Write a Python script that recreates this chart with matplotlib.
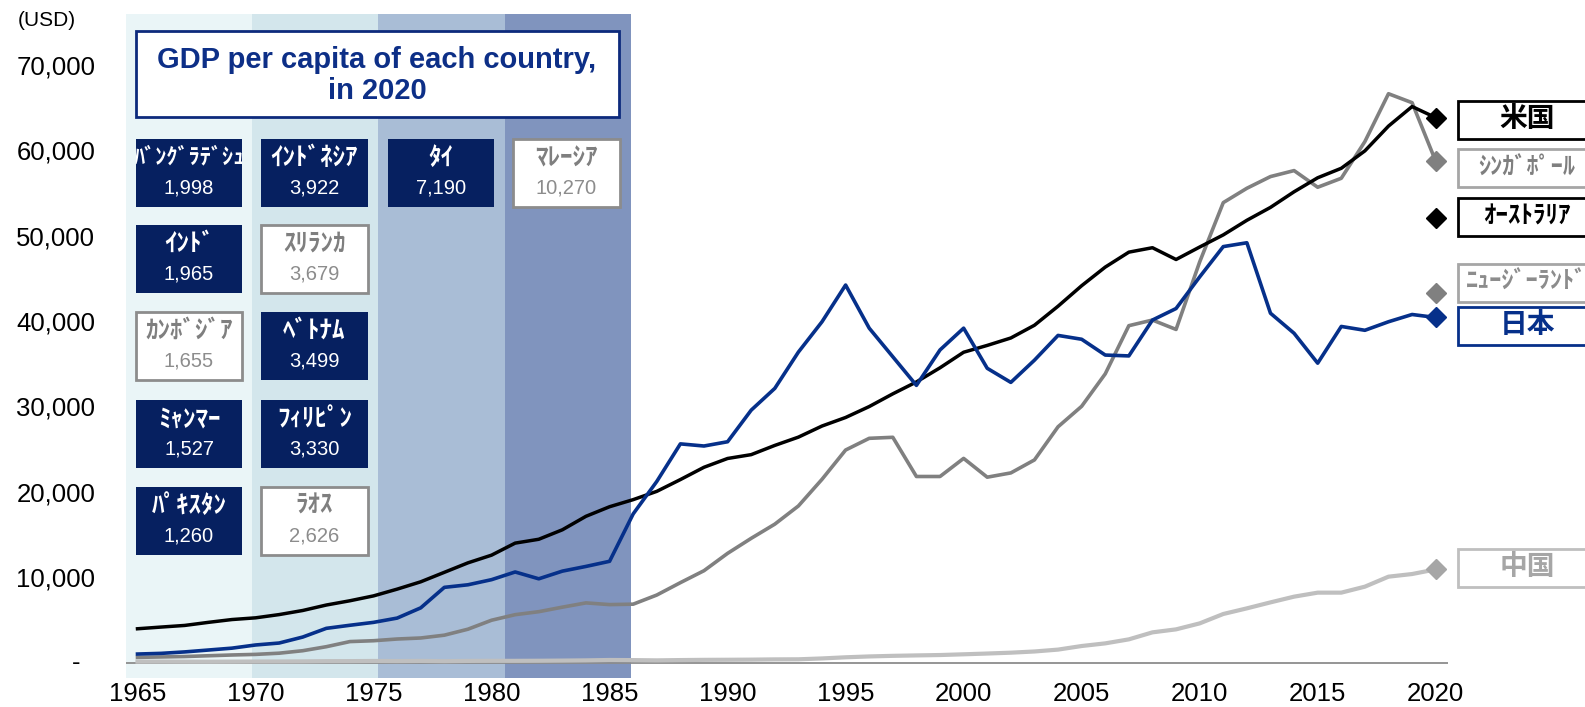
import matplotlib
matplotlib.use("Agg")
import matplotlib.pyplot as plt
from matplotlib.patches import Rectangle

plt.rcParams['font.family'] = ['Liberation Sans', 'Noto Sans CJK JP']

# ======================
# DATA
# ======================
years = list(range(1965, 2021))

usa = [3950, 4150, 4340, 4700, 5030, 5230, 5610, 6090, 6730, 7230,
       7800, 8590, 9450, 10560, 11670, 12570, 13980, 14430, 15540, 17120,
       18240, 19070, 20040, 21420, 22860, 23890, 24340, 25420, 26390, 27690,
       28690, 29970, 31460, 32850, 34510, 36330, 37130, 38000, 39490, 41720,
       44120, 46300, 48050, 48570, 47190, 48650, 50070, 51780, 53290, 55120,
       56760, 57870, 59910, 62810, 65100, 63800]

japan = [990, 1070, 1240, 1460, 1680, 2050, 2280, 2980, 4000, 4360,
         4700, 5200, 6400, 8800, 9100, 9700, 10600, 9800, 10700, 11250,
         11850, 17400, 21200, 25600, 25350, 25850, 29550, 32100, 36350, 39900,
         44200, 39150, 35800, 32450, 36600, 39150, 34450, 32800, 35400, 38300,
         37850, 36000, 35900, 40100, 41450, 45150, 48700, 49150, 40900, 38550,
         35050, 39350, 38900, 39900, 40750, 40400]

singapore = [600, 650, 700, 790, 880, 950, 1090, 1380, 1850, 2450,
             2550, 2750, 2870, 3200, 3900, 4950, 5600, 5950, 6480, 6980,
             6780, 6830, 7900, 9350, 10750, 12780, 14540, 16200, 18330, 21450,
             24880, 26250, 26370, 21780, 21780, 23900, 21700, 22200, 23720, 27600,
             30000, 33800, 39440, 40100, 39000, 46900, 53850, 55530, 56900, 57600,
             55650, 56700, 61000, 66600, 65550, 58700]

china = [100, 105, 95, 90, 100, 115, 120, 130, 155, 160,
         180, 165, 185, 155, 185, 195, 195, 205, 225, 250,
         295, 280, 250, 285, 310, 320, 335, 365, 375, 475,
         610, 710, 780, 830, 875, 960, 1050, 1150, 1290, 1510,
         1930, 2240, 2710, 3530, 3880, 4580, 5680, 6340, 7040, 7710,
         8180, 8180, 8880, 10050, 10360, 10900]

australia_2020 = 52100
nz_2020 = 43300

right_labels = ['米国', 'ｼﾝｶﾞﾎﾟｰﾙ', 'ｵｰｽﾄﾗﾘｱ', 'ﾆｭｰｼﾞｰﾗﾝﾄﾞ', '日本', '中国']

box_names = ['ﾊﾞﾝｸﾞﾗﾃﾞｼｭ', 'ｲﾝﾄﾞ', 'ｶﾝﾎﾞｼﾞｱ', 'ﾐｬﾝﾏｰ', 'ﾊﾟｷｽﾀﾝ',
             'ｲﾝﾄﾞﾈｼｱ', 'ｽﾘﾗﾝｶ', 'ﾍﾞﾄﾅﾑ', 'ﾌｨﾘﾋﾟﾝ', 'ﾗｵｽ',
             'ﾀｲ', 'ﾏﾚｰｼｱ']
box_values = [1998, 1965, 1655, 1527, 1260,
              3922, 3679, 3499, 3330, 2626,
              7190, 10270]

# ======================
# STYLE / LAYOUT
# ======================
W, H = 1585, 707
NAVY = '#062060'
JP_BLUE = '#06308a'
GRAY = '#808080'
LGRAY = '#bfbfbf'

box_dark = [True, True, False, True, True,
            True, False, True, True, False,
            True, False]
box_col = [0, 0, 0, 0, 0, 1, 1, 1, 1, 1, 2, 3]
box_row = [0, 1, 2, 3, 4, 0, 1, 2, 3, 4, 0, 0]
col_x = [(136, 242), (261, 368), (388, 494), (513, 620)]
row_top = [139, 225, 312, 400, 487]
row_h = 68

band_edges = [1964.5, 1969.85, 1975.2, 1980.55, 1985.9]
band_colors = ['#eaf5f7', '#d3e6ec', '#a9bdd6', '#8094be']


def fx(x):
    return x / W


def fy(y):
    return 1 - y / H


# axes placement in pixels
ax_left, ax_right = 125.7, 1447.5
ax_top, ax_bot = 14.2, 677.6
zero_px, px_per_10k = 662.5, 85.4
ymin = -(ax_bot - zero_px) / px_per_10k * 10000
ymax = (zero_px - ax_top) / px_per_10k * 10000

fig = plt.figure(figsize=(W / 100, H / 100), dpi=100)
ax = fig.add_axes([fx(ax_left), fy(ax_bot), (ax_right - ax_left) / W, (ax_bot - ax_top) / H])
ax.set_xlim(1964.5, 2020.5)
ax.set_ylim(ymin, ymax)

for i, c in enumerate(band_colors):
    ax.axvspan(band_edges[i], band_edges[i + 1], color=c, lw=0, zorder=0)

ax.axhline(0, color='#8c8c8c', lw=1.3, zorder=1)

ax.plot(years, china, color=LGRAY, lw=3, zorder=2)
ax.plot(years, singapore, color=GRAY, lw=2.6, zorder=3)
ax.plot(years, usa, color='black', lw=2.5, zorder=4)
ax.plot(years, japan, color=JP_BLUE, lw=2.6, zorder=5)

# 2020 diamonds
ms = 10
ax.plot(years[-1], usa[-1], 'D', color='black', ms=ms, clip_on=False, zorder=6)
ax.plot(years[-1], singapore[-1], 'D', color=GRAY, ms=ms, clip_on=False, zorder=6)
ax.plot(years[-1], australia_2020, 'D', color='black', ms=ms, clip_on=False, zorder=6)
ax.plot(years[-1], nz_2020, 'D', color=GRAY, ms=ms, clip_on=False, zorder=6)
ax.plot(years[-1], japan[-1], 'D', color=JP_BLUE, ms=ms, clip_on=False, zorder=6)
ax.plot(years[-1], china[-1], 'D', color='#a6a6a6', ms=ms, clip_on=False, zorder=6)

for s in ax.spines.values():
    s.set_visible(False)

ax.set_xticks(range(1965, 2021, 5))
ax.set_yticks(range(10000, 70001, 10000))
ax.set_yticklabels([f'{v:,}' for v in range(10000, 70001, 10000)])
ax.tick_params(axis='y', length=0, pad=22, labelsize=18.5)
ax.tick_params(axis='x', length=0, pad=3.5, labelsize=18.5)
fig.text(fx(76), fy(zero_px), '-', fontsize=18.5, ha='center', va='center')
fig.text(fx(47), fy(21), '(USD)', fontsize=15, ha='center', va='center')

# title box
fig.add_artist(Rectangle((fx(136), fy(117)), (619 - 136) / W, (117 - 31) / H,
                         transform=fig.transFigure, facecolor='white',
                         edgecolor='#0d2a7c', lw=2, zorder=5))
fig.text(fx(377), fy(75.5), 'GDP per capita of each country,\nin 2020', color='#0d2f87',
         fontsize=21, fontweight='bold', ha='center', va='center',
         linespacing=1.1, zorder=6)

# country boxes
for name, val, dark, c, r in zip(box_names, box_values, box_dark, box_col, box_row):
    x0, x1 = col_x[c]
    y0 = row_top[r]
    if dark:
        rect = Rectangle((fx(x0), fy(y0 + row_h)), (x1 - x0) / W, row_h / H,
                         transform=fig.transFigure, facecolor=NAVY, edgecolor=NAVY,
                         lw=0, zorder=5)
        tcol = ncol = 'white'
    else:
        rect = Rectangle((fx(x0), fy(y0 + row_h)), (x1 - x0) / W, row_h / H,
                         transform=fig.transFigure, facecolor='white',
                         edgecolor='#8c8c8c', lw=2, zorder=5)
        tcol = '#7f7f7f'
        ncol = '#8c8c8c'
    fig.add_artist(rect)
    xc = (x0 + x1) / 2
    fs = 16 if len(name) > 8 else 18
    t = fig.text(fx(xc), fy(y0 + 19), name, color=tcol, fontsize=fs,
                 fontweight='bold', ha='center', va='center', zorder=6)
    t.set_clip_path(rect)
    fig.text(fx(xc), fy(y0 + 49), f'{val:,}', color=ncol, fontsize=14.5,
             ha='center', va='center', zorder=6)

# right side labels
lab_y = [120, 168, 217, 282.5, 326, 567.5]
lab_edge = ['black', '#a6a6a6', 'black', '#a6a6a6', JP_BLUE, '#bfbfbf']
lab_col = ['black', '#7f7f7f', 'black', '#8c8c8c', JP_BLUE, '#a6a6a6']
lab_size = [20, 17.5, 18, 17.5, 20, 20]
lab_h = 38
for name, yc, ec, tc, fs in zip(right_labels, lab_y, lab_edge, lab_col, lab_size):
    fig.add_artist(Rectangle((fx(1458), fy(yc + lab_h / 2)), 150 / W, lab_h / H,
                             transform=fig.transFigure, facecolor='white',
                             edgecolor=ec, lw=2, zorder=5))
    fig.text(fx(1527), fy(yc), name, color=tc, fontsize=fs, fontweight='bold',
             ha='center', va='center', zorder=6)

fig.savefig('out.png', dpi=100)
